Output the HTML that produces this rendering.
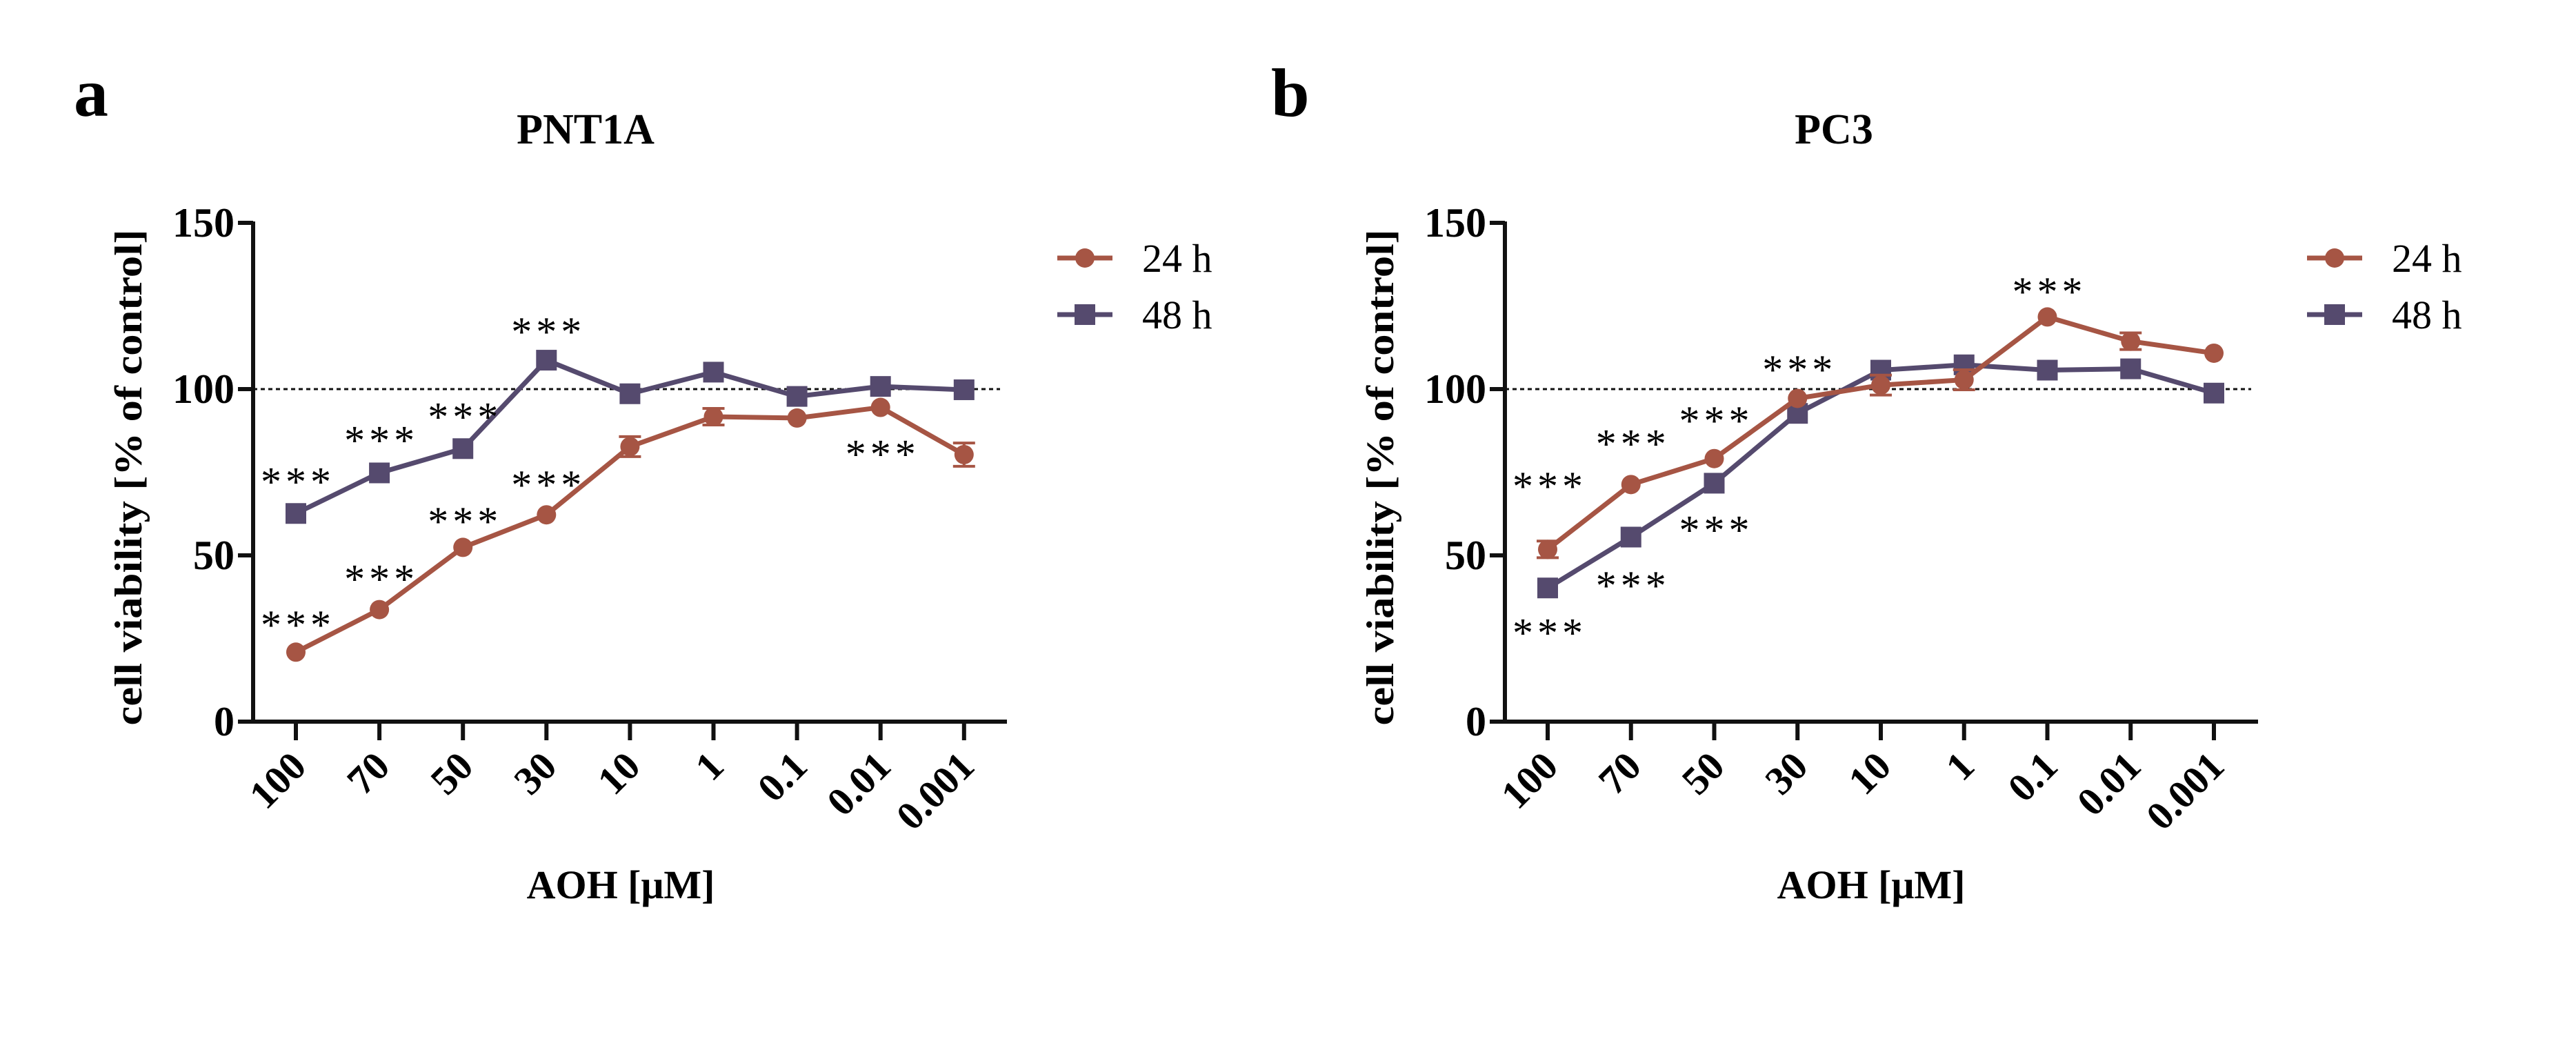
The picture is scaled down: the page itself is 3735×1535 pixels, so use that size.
<!DOCTYPE html>
<html><head><meta charset="utf-8"><style>
html,body{margin:0;padding:0;background:#fff;}
svg{display:block;}
text{font-family:"Liberation Serif",serif;}
</style></head><body>
<svg id="chart" width="3735" height="1535" viewBox="0 0 3735 1535"></svg>
<script>
const categories = ["100","70","50","30","10","1","0.1","0.01","0.001"];
const yTicks = [0,50,100,150];
const a24 = [20.9,33.7,52.4,62.2,82.7,91.7,91.3,94.5,80.3];
const a24err = [1,1,1,1,3,2.5,1,1,3.5];
const a48 = [62.6,74.8,82.1,108.7,98.6,105.1,97.8,100.8,99.8];
const a48err = [1,1,1,1,1,1,1,1,1];
const b24 = [51.8,71.3,79.1,97.2,101.2,102.8,121.7,114.4,110.8];
const b24err = [2.5,1,1,1,3,3,1,2.5,1];
const b48 = [40.2,55.5,71.7,92.7,105.7,107.3,105.7,106.1,98.8];
const b48err = [1,1,1,1,1,1,1,1,1];
// significance marker levels (value units), null = none
const aStars24 = [31.1,44.9,62.2,73.2,null,null,null,82.5,null];
const aStars48 = [74.2,86.6,93.7,119.3,null,null,null,null,null];
const bStars24 = [72.8,85.6,92.5,107.9,null,null,131.3,null,null];
const bStars48 = [28.7,42.9,59.6,null,null,null,null,null,null];

const NS="http://www.w3.org/2000/svg";
const svg=document.getElementById('chart');
function mk(tag,attrs,parent){const e=document.createElementNS(NS,tag);for(const k in attrs)e.setAttribute(k,attrs[k]);(parent||svg).appendChild(e);return e;}
const RED="#a65544", BLUE="#554a6e";

function panel(cfg){
  const g=mk('g',{});
  
  
  const y0=1046, y150=323;
  const ys=v=>y0-(v/150)*(y0-y150);
  const xs=i=>cfg.x0+i*cfg.dx;
  let t=mk('text',{x:cfg.letterX,y:168,'font-size':100,'font-weight':'bold'},g);t.textContent=cfg.letter;
  
  t=mk('text',{x:cfg.titleX,y:208,'font-size':62,'font-weight':'bold','text-anchor':'middle'},g);t.textContent=cfg.title;
  
  let l=mk('line',{x1:cfg.ax,y1:y150-2,x2:cfg.ax,y2:y0+3,stroke:'#111','stroke-width':6},g);
  
  l=mk('line',{x1:cfg.ax-3,y1:y0,x2:cfg.axEnd,y2:y0,stroke:'#111','stroke-width':6},g);
  
  yTicks.forEach(v=>{
    const tk=mk('line',{x1:cfg.ax-22,y1:ys(v),x2:cfg.ax,y2:ys(v),stroke:'#111','stroke-width':6},g);
    
    const tl=mk('text',{x:cfg.ax-27,y:ys(v)+20,'font-size':60,'font-weight':'bold','text-anchor':'end'},g);tl.textContent=v;
    
  });
  categories.forEach((c,i)=>{
    const tk=mk('line',{x1:xs(i),y1:y0,x2:xs(i),y2:y0+27,stroke:'#111','stroke-width':6},g);
    
    const tl=mk('text',{x:0,y:0,'font-size':58,'font-weight':'bold','text-anchor':'end',transform:`translate(${xs(i)+18},${y0+68}) rotate(-45)`},g);tl.textContent=c;
    
  });
  t=mk('text',{x:0,y:0,'font-size':56,'font-weight':'bold','text-anchor':'middle',textLength:719,lengthAdjust:'spacingAndGlyphs',transform:`translate(${cfg.yTitleX},692) rotate(-90)`},g);
  t.textContent='cell viability [% of control]';
  
  t=mk('text',{x:cfg.xTitleX,y:1302,'font-size':58,'font-weight':'bold','text-anchor':'middle'},g);t.textContent='AOH [\u03bcM]';
  
  l=mk('line',{x1:cfg.ax,y1:ys(100),x2:cfg.axEnd-10,y2:ys(100),stroke:'#111','stroke-width':3,'stroke-dasharray':'6 5'},g);
  
  function series(vals,errs,color,shape,nm){
    const sg=mk('g',{},g);
    
    const p=mk('polyline',{points:vals.map((v,i)=>xs(i)+','+ys(v)).join(' '),fill:'none',stroke:color,'stroke-width':7},sg);
    
    vals.forEach((v,i)=>{
      if(errs[i]>1.2){
        const e=mk('path',{d:`M${xs(i)-16},${ys(v+errs[i])}H${xs(i)+16}M${xs(i)},${ys(v+errs[i])}V${ys(v-errs[i])}M${xs(i)-16},${ys(v-errs[i])}H${xs(i)+16}`,stroke:color,'stroke-width':4,fill:'none'},sg);
        
      }
      let m;
      if(shape==='circle') m=mk('circle',{cx:xs(i),cy:ys(v),r:14,fill:color},sg);
      else m=mk('rect',{x:xs(i)-15,y:ys(v)-15,width:30,height:30,fill:color},sg);
      
    });
  }
  function stars(levels){
    levels.forEach((v,i)=>{
      if(v===null)return;
      const s=mk('text',{x:xs(i)+3,y:ys(v)+30,'font-size':60,'text-anchor':'middle','letter-spacing':6},g);
      s.textContent='***';
      
    });
  }
  series(cfg.s48,cfg.e48,BLUE,'square','series-48h');
  series(cfg.s24,cfg.e24,RED,'circle','series-24h');
  stars(cfg.st24);
  stars(cfg.st48);
  const lg=mk('g',{},g);
  [[RED,'circle','24 h',374],[BLUE,'square','48 h',456]].forEach(([c,sh,lab,yy])=>{
    const e=mk('g',{},lg);
    mk('line',{x1:cfg.legX,y1:yy,x2:cfg.legX+80,y2:yy,stroke:c,'stroke-width':7},e);
    if(sh==='circle')mk('circle',{cx:cfg.legX+40,cy:yy,r:14,fill:c},e);
    else mk('rect',{x:cfg.legX+25,y:yy-15,width:30,height:30,fill:c},e);
    const tt=mk('text',{x:cfg.legX+123,y:yy+20,'font-size':58},e);tt.textContent=lab;
  });
}
panel({name:'panel-a-pnt1a',letter:'a',letterX:107,title:'PNT1A',titleX:849,ax:367,axEnd:1460,x0:429,dx:121.1,
  yTitleX:205,xTitleX:900,legX:1533,s24:a24,e24:a24err,s48:a48,e48:a48err,st24:aStars24,st48:aStars48});
panel({name:'panel-b-pc3',letter:'b',letterX:1843,title:'PC3',titleX:2659,ax:2182,axEnd:3274,x0:2244,dx:120.75,
  yTitleX:2020,xTitleX:2713,legX:3345,s24:b24,e24:b24err,s48:b48,e48:b48err,st24:bStars24,st48:bStars48});
</script>
</body></html>
